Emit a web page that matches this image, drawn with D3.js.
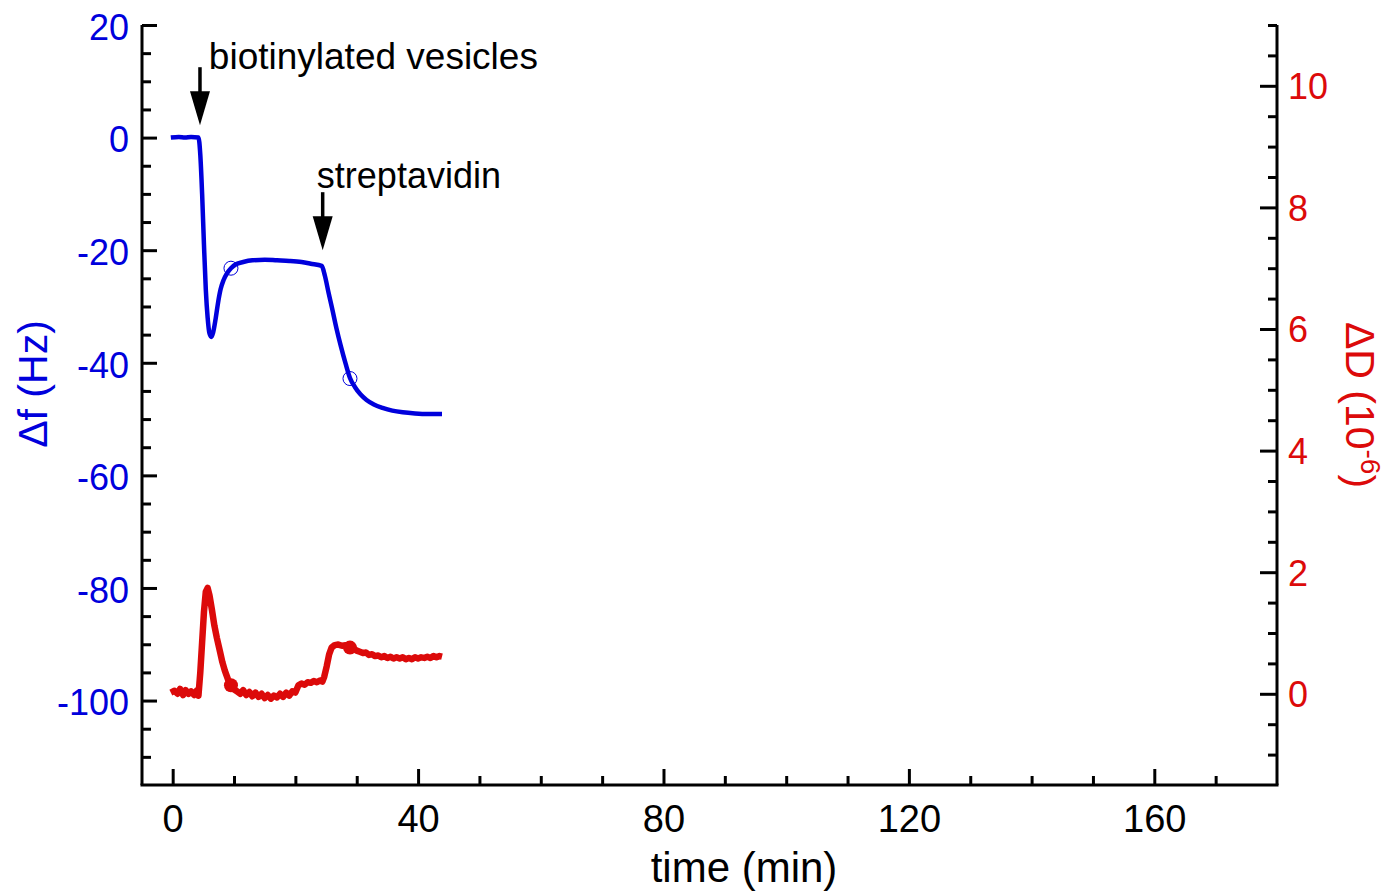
<!DOCTYPE html>
<html>
<head>
<meta charset="utf-8">
<script src="https://cdn.jsdelivr.net/npm/d3@7/dist/d3.min.js"></script>
<style>
  html, body { margin: 0; padding: 0; background: #fff; }
  svg { display: block; font-family: "Liberation Sans", Arial, sans-serif; }
</style>
</head>
<body>
<svg id="chart" width="1395" height="892"></svg>
<script>
// Frequency shift (Hz) versus time (min)
const freqTime = [-0.3, 1, 2, 3, 4.2, 4.5, 4.8, 5.1, 5.4, 5.7, 6.0, 6.3, 6.6, 7.0, 7.4, 7.8, 8.3, 8.8, 9.5, 10.3, 11.5, 13, 15, 17, 19, 21, 22.5, 24.3,
  24.8, 25.4, 26.0, 26.7, 27.4, 28.2, 28.9, 29.7, 30.6, 31.6, 32.8, 34.2, 35.8, 37.5, 39.5, 41.5, 43.9];
const freqShift = [0, 0.1, 0, 0.1, 0, -3, -10, -19, -27, -32, -34.8, -35.4, -34.6, -32.2, -29.3, -27, -25.3, -24.2, -23.2, -22.5, -22.1, -21.8, -21.7, -21.8, -21.9, -22.1, -22.4, -22.8,
  -24.5, -27.5, -30.4, -33.9, -37.0, -40.2, -42.7, -44.3, -45.6, -46.6, -47.4, -48.0, -48.5, -48.8, -49.0, -49.1, -49.1];

// Dissipation shift (1e-6) versus time (min)
const dissTime = [-0.3, 0.3, 0.8, 1.2, 1.7, 2.1, 2.6, 3.0, 3.5, 3.9, 4.2, 4.5, 4.8, 5.1, 5.4, 5.7, 6.0, 6.4, 6.8, 7.2, 7.7, 8.1, 8.5, 9.0, 9.5, 10.0,
  10.5, 11.0, 11.5, 12.0, 12.5, 13.0, 13.5, 14.0, 14.5, 15.0, 15.5, 16.0, 16.5, 17.0, 17.5, 18.0, 18.5, 19.0, 19.5, 20.0,
  20.5, 21.0, 21.5, 22.0, 22.5, 23.0, 23.5, 24.0, 24.4, 24.7, 25.1, 25.5, 25.9, 26.4, 27.0, 27.6, 28.2, 28.9,
  29.5, 30.0, 30.5, 31.0, 31.5, 32.0, 32.5, 33.0, 33.5, 34.0, 34.5, 35.0, 35.5, 36.0, 36.5, 37.0, 37.5, 38.0, 38.5, 39.0, 39.5, 40.0, 40.5, 41.0, 41.5, 42.0, 42.5, 43.0, 43.5, 43.9];
const dissShift = [0.02, 0.05, 0.0, 0.08, -0.02, 0.06, 0.0, 0.04, -0.02, 0.05, -0.03, 0.35, 0.85, 1.35, 1.68, 1.74, 1.62, 1.38, 1.12, 0.92, 0.70, 0.52, 0.38, 0.24, 0.14, 0.07,
  0.04, 0.0, 0.06, -0.02, 0.03, -0.04, 0.02, -0.05, 0.0, -0.07, -0.02, -0.08, -0.03, -0.06, 0.0, -0.05, 0.02, -0.03, 0.04, 0.02,
  0.14, 0.17, 0.15, 0.19, 0.18, 0.21, 0.19, 0.22, 0.2, 0.28, 0.45, 0.65, 0.76, 0.8, 0.81, 0.79, 0.8, 0.76,
  0.74, 0.71, 0.69, 0.67, 0.68, 0.64, 0.65, 0.62, 0.63, 0.6, 0.62, 0.59, 0.61, 0.58, 0.6, 0.58, 0.6, 0.57, 0.59, 0.57, 0.6, 0.58, 0.6, 0.59, 0.61, 0.59, 0.62, 0.6, 0.62, 0.61];

// Marked points on each trace
const freqMarkTime = [9.5, 28.9];
const freqMarkValue = [-23.2, -42.8];
const dissMarkTime = [9.5, 28.9];
const dissMarkValue = [0.14, 0.76];

// Injection annotations: arrow tip (time, Hz) and label anchor (time, Hz)
const annLabels = ["biotinylated vesicles", "streptavidin"];
const annArrowTime = [4.45, 24.45];
const annArrowTip = [2.2, -20];
const annTextTime = [5.9, 23.5];
const annTextValue = [12.1, -8.95];

// Axis ticks
const xMajorTicks = [0, 40, 80, 120, 160];
const xMinorTicks = [10, 20, 30, 50, 60, 70, 90, 100, 110, 130, 140, 150, 170];
const yfMajorTicks = [20, 0, -20, -40, -60, -80, -100];
const yDMajorTicks = [0, 2, 4, 6, 8, 10];

const BLUE = "#0000dc";
const RED = "#dc0a0a";

const svg = d3.select("#chart");
const plotLeft = 142, plotRight = 1277, plotTop = 25, plotBottom = 785;

const x = d3.scaleLinear().domain([-5, 180]).range([plotLeft, plotRight]);
const yf = d3.scaleLinear().domain([-115, 20]).range([plotBottom, plotTop]);
const yD = d3.scaleLinear().domain([-1.5, 11]).range([plotBottom, plotTop]);

// minor ticks
const yfMinor = d3.range(-110, 20, 5).filter(v => !yfMajorTicks.includes(v));
const yDMinor = d3.range(-1, 11.01, 0.5).filter(v => !yDMajorTicks.includes(v));

// plain hyphen-minus for negative labels
const plainFmt = d => String(d);

// Axes: ticks point inward
const axisStyle = g => {
  g.selectAll(".domain").attr("stroke", "#000").attr("stroke-width", 3);
  g.selectAll(".tick line").attr("stroke", "#000").attr("stroke-width", 3);
};

// Bottom axis
const xAxisMinor = svg.append("g").attr("transform", `translate(0,${plotBottom})`)
  .call(d3.axisBottom(x).tickValues(xMinorTicks).tickSizeInner(-9).tickSizeOuter(0).tickFormat(""));
xAxisMinor.call(axisStyle);
xAxisMinor.select(".domain").remove();
const xAxis = svg.append("g").attr("transform", `translate(0,${plotBottom})`)
  .call(d3.axisBottom(x).tickValues(xMajorTicks).tickSizeInner(-16).tickSizeOuter(0).tickPadding(0).tickFormat(plainFmt));
xAxis.call(axisStyle);
xAxis.select(".domain").attr("d", `M${plotLeft - 1.5},0H${plotRight + 1.5}`);
xAxis.selectAll(".tick text")
  .attr("fill", "#000").attr("font-size", 38).attr("dy", null)
  .attr("y", 47).attr("font-family", "Liberation Sans, Arial, sans-serif");

// Left axis
const yfAxisMinor = svg.append("g").attr("transform", `translate(${plotLeft},0)`)
  .call(d3.axisLeft(yf).tickValues(yfMinor).tickSizeInner(-9).tickSizeOuter(0).tickFormat(""));
yfAxisMinor.call(axisStyle);
yfAxisMinor.select(".domain").remove();
const yfAxis = svg.append("g").attr("transform", `translate(${plotLeft},0)`)
  .call(d3.axisLeft(yf).tickValues(yfMajorTicks).tickSizeInner(-15).tickSizeOuter(0).tickFormat(plainFmt));
yfAxis.call(axisStyle);
yfAxis.select(".domain").attr("d", `M0,${plotTop}V${plotBottom}`);
yfAxis.selectAll(".tick text")
  .attr("fill", BLUE).attr("font-size", 36).attr("x", -13).attr("dy", "0.4em")
  .attr("font-family", "Liberation Sans, Arial, sans-serif");

// Right axis
const yDAxisMinor = svg.append("g").attr("transform", `translate(${plotRight},0)`)
  .call(d3.axisRight(yD).tickValues(yDMinor).tickSizeInner(-9).tickSizeOuter(0).tickFormat(""));
yDAxisMinor.call(axisStyle);
yDAxisMinor.select(".domain").remove();
const yDAxis = svg.append("g").attr("transform", `translate(${plotRight},0)`)
  .call(d3.axisRight(yD).tickValues(yDMajorTicks).tickSizeInner(-17).tickSizeOuter(0).tickFormat(plainFmt));
yDAxis.call(axisStyle);
yDAxis.select(".domain").attr("d", `M0,${plotTop}V${plotBottom}`);
yDAxis.selectAll(".tick text")
  .attr("fill", RED).attr("font-size", 36).attr("x", 11).attr("dy", "0.36em")
  .attr("font-family", "Liberation Sans, Arial, sans-serif");

// Axis titles
svg.append("text")
  .attr("transform", `translate(47,${(plotTop + plotBottom) / 2 - 21}) rotate(-90)`)
  .attr("text-anchor", "middle").attr("fill", BLUE).attr("font-size", 41)
  .text("Δf (Hz)");

const dTitle = svg.append("text")
  .attr("transform", `translate(1346,${(plotTop + plotBottom) / 2}) rotate(90)`)
  .attr("text-anchor", "middle").attr("fill", RED).attr("font-size", 41);
dTitle.append("tspan").text("ΔD (10");
dTitle.append("tspan").attr("font-size", 28).attr("dy", -15).text("-6");
dTitle.append("tspan").attr("dy", 15).text(")");

svg.append("text")
  .attr("x", 744).attr("y", 882)
  .attr("text-anchor", "middle").attr("fill", "#000").attr("font-size", 42)
  .text("time (min)");

// Traces
const freqData = freqTime.map((t, i) => [t, freqShift[i]]);
const dissData = dissTime.map((t, i) => [t, dissShift[i]]);

svg.append("path").datum(dissData)
  .attr("fill", "none").attr("stroke", RED).attr("stroke-width", 6.5).attr("stroke-linejoin", "round")
  .attr("d", d3.line().x(d => x(d[0])).y(d => yD(d[1])));

svg.append("path").datum(freqData)
  .attr("fill", "none").attr("stroke", BLUE).attr("stroke-width", 4.5).attr("stroke-linejoin", "round")
  .attr("d", d3.line().x(d => x(d[0])).y(d => yf(d[1])).curve(d3.curveMonotoneX));

// Markers
svg.append("g").selectAll("circle").data(freqMarkTime).join("circle")
  .attr("cx", d => x(d)).attr("cy", (d, i) => yf(freqMarkValue[i])).attr("r", 7)
  .attr("fill", "none").attr("stroke", BLUE).attr("stroke-width", 1);

svg.append("g").selectAll("circle").data(dissMarkTime).join("circle")
  .attr("cx", d => x(d)).attr("cy", (d, i) => yD(dissMarkValue[i])).attr("r", 7)
  .attr("fill", RED);

// Annotations
const ann = svg.append("g");
annLabels.forEach((label, i) => {
  const ax = x(annArrowTime[i]);
  const ay = yf(annArrowTip[i]);
  ann.append("line")
    .attr("x1", ax).attr("x2", ax).attr("y1", ay - 58).attr("y2", ay - 30)
    .attr("stroke", "#000").attr("stroke-width", 3.5);
  ann.append("path")
    .attr("d", `M${ax - 10},${ay - 34}L${ax + 10},${ay - 34}L${ax},${ay}Z`)
    .attr("fill", "#000");
  ann.append("text")
    .attr("x", x(annTextTime[i])).attr("y", yf(annTextValue[i]))
    .attr("fill", "#000").attr("font-size", i === 0 ? 37 : 36)
    .text(label);
});
</script>
</body>
</html>
